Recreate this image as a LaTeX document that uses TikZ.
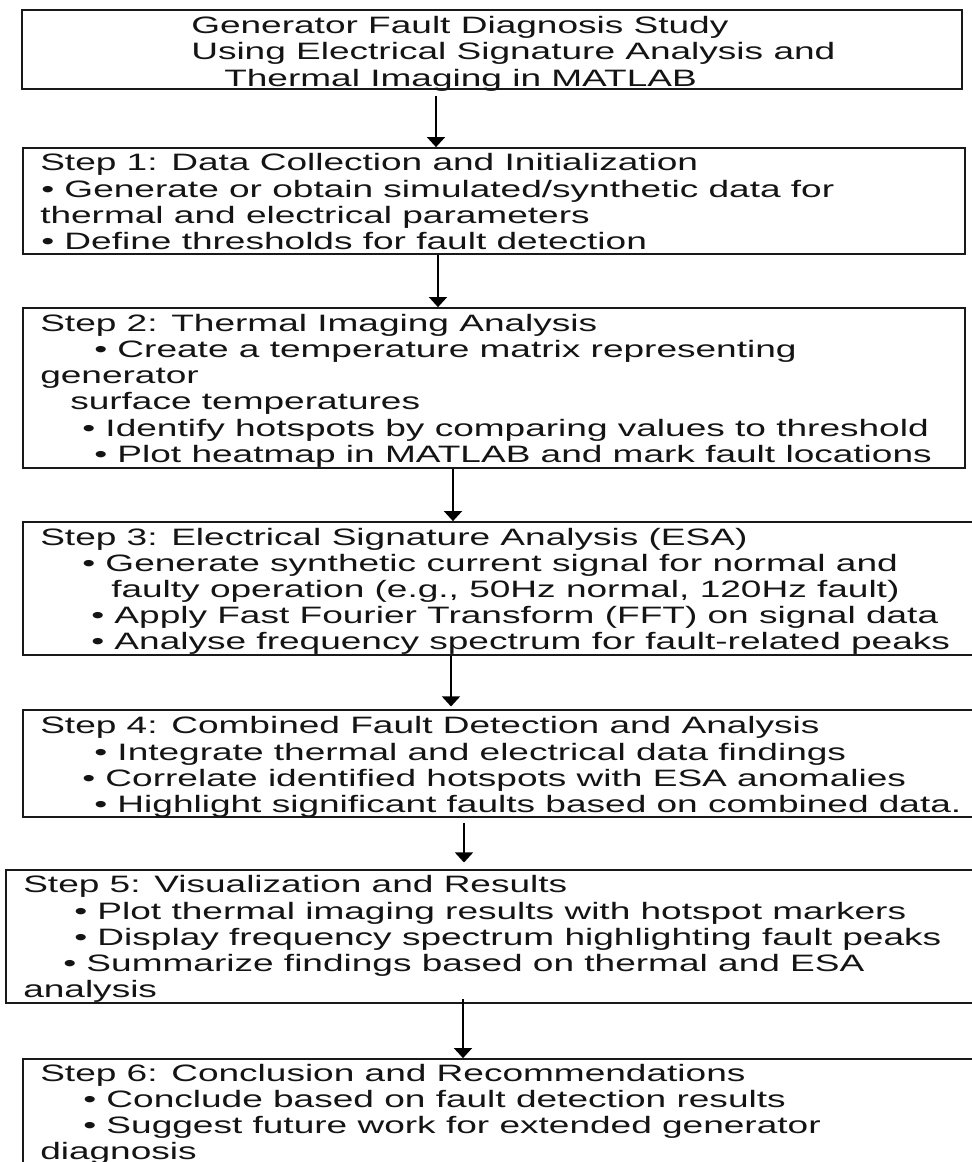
\documentclass[tikz,border=0pt]{standalone}
\usepackage{fontspec}
\setmainfont[FakeStretch=1.56]{Liberation Sans}
\usetikzlibrary{fit,arrows.meta}
\begin{document}
\begin{tikzpicture}[x=0.75pt,y=-0.75pt,
  box/.style={draw=black!90,line width=1.3pt,inner sep=0pt,fill=none},
  ln/.style={anchor=base west,inner sep=0pt,font=\fontsize{17.8}{20}\selectfont,text=black!92},
  arr/.style={draw=black,line width=1.05pt,-{Triangle[width=13.5pt,length=7.5pt]}}]
\useasboundingbox (0,0) rectangle (971,1162);
% boxes
\node[box,fit={(22,10)(962,89)}] (t) {};
\node[box,fit={(23,148)(965,254)}] (s1) {};
\node[box,fit={(23,308)(965,468)}] (s2) {};
\node[box,fit={(23,522)(976,655)}] (s3) {};
\node[box,fit={(23,710)(976,817)}] (s4) {};
\node[box,fit={(6,870)(976,1003)}] (s5) {};
\node[box,fit={(23,1059)(976,1175)}] (s6) {};
% title
\node[ln] (t1) at (191,34) {Generator Fault Diagnosis Study};
\node[ln] (t2) at (191,60) {Using Electrical Signature Analysis and};
\node[ln] (t3) at (224,87) {Thermal Imaging in MATLAB};
% step 1
\node[ln] (a1) at (40,171) {Step 1: Data Collection and Initialization};
\node[ln] (a2) at (41,198) {• Generate or obtain simulated/synthetic data for};
\node[ln] (a3) at (40,224) {thermal and electrical parameters};
\node[ln] (a4) at (41,250) {• Define thresholds for fault detection};
% step 2
\node[ln] (b1) at (40,331) {Step 2: Thermal Imaging Analysis};
\node[ln] (b2) at (94,357) {• Create a temperature matrix representing};
\node[ln] (b3) at (40,383) {generator};
\node[ln] (b4) at (70,409) {surface temperatures};
\node[ln] (b5) at (82,436) {• Identify hotspots by comparing values to threshold};
\node[ln] (b6) at (94,462) {• Plot heatmap in MATLAB and mark fault locations};
% step 3
\node[ln] (c1) at (40,545) {Step 3: Electrical Signature Analysis (ESA)};
\node[ln] (c2) at (82,571) {• Generate synthetic current signal for normal and};
\node[ln] (c3) at (111,597) {faulty operation (e.g., 50Hz normal, 120Hz fault)};
\node[ln] (c4) at (91,623) {• Apply Fast Fourier Transform (FFT) on signal data};
\node[ln] (c5) at (91,649) {• Analyse frequency spectrum for fault-related peaks};
% step 4
\node[ln] (d1) at (40,733) {Step 4: Combined Fault Detection and Analysis};
\node[ln] (d2) at (94,760) {• Integrate thermal and electrical data findings};
\node[ln] (d3) at (82,786) {• Correlate identified hotspots with ESA anomalies};
\node[ln] (d4) at (94,812) {• Highlight significant faults based on combined data.};
% step 5
\node[ln] (e1) at (23,892) {Step 5: Visualization and Results};
\node[ln] (e2) at (74,919) {• Plot thermal imaging results with hotspot markers};
\node[ln] (e3) at (74,945) {• Display frequency spectrum highlighting fault peaks};
\node[ln] (e4) at (63,971) {• Summarize findings based on thermal and ESA};
\node[ln] (e5) at (23,997) {analysis};
% step 6
\node[ln] (f1) at (40,1081) {Step 6: Conclusion and Recommendations};
\node[ln] (f2) at (83,1107) {• Conclude based on fault detection results};
\node[ln] (f3) at (83,1133) {• Suggest future work for extended generator};
\node[ln] (f4) at (40,1159) {diagnosis};
% arrow x positions
\coordinate (x1) at (436,0);
\coordinate (x2) at (438,0);
\coordinate (x3) at (453,0);
\coordinate (x4) at (451,0);
\coordinate (x5) at (464,0);
\coordinate (x6) at (463,0);
\draw[arr,shorten <=4.5pt] (t.south -| x1) -- (s1.north -| x1);
\draw[arr] (s1.south -| x2) -- (s2.north -| x2);
\draw[arr] (s2.south -| x3) -- (s3.north -| x3);
\draw[arr,shorten >=2pt] (s3.south -| x4) -- (s4.north -| x4);
\draw[arr,shorten <=3.5pt,shorten >=5pt] (s4.south -| x5) -- (s5.north -| x5);
\draw[arr,shorten <=-3.5pt] (s5.south -| x6) -- (s6.north -| x6);
\end{tikzpicture}
\end{document}
